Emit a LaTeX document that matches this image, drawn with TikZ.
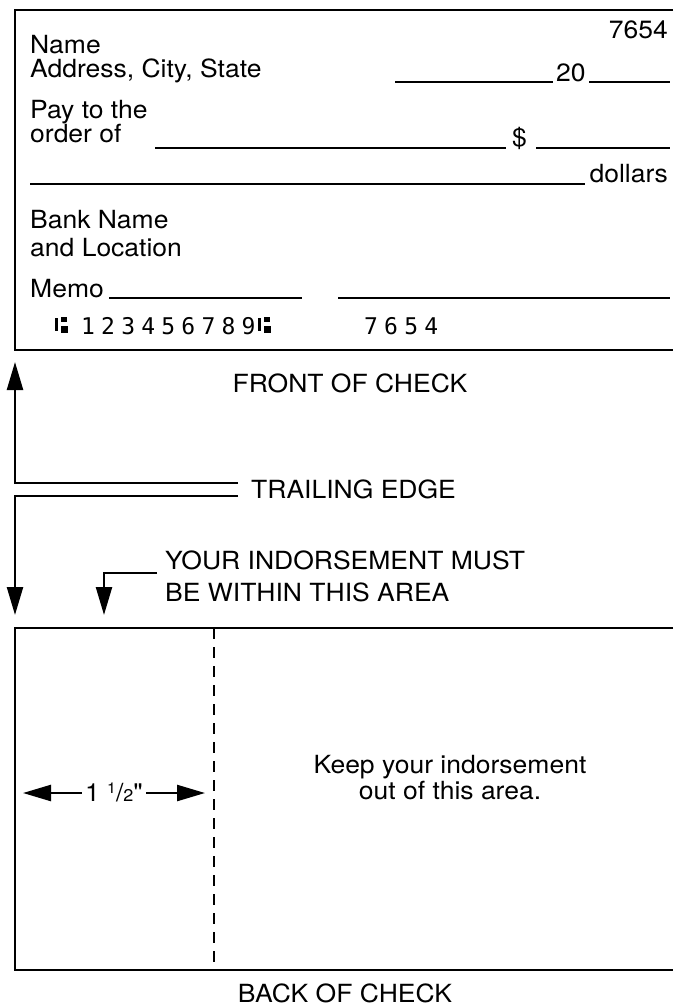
\documentclass[tikz,border=0pt]{standalone}
\usepackage{fontspec}
\setmainfont[FakeStretch=1.06]{TeX Gyre Heros}
\newfontfamily\qfont[FakeStretch=1.06,Ligatures=TeXOff]{TeX Gyre Heros}
\newfontfamily\micrfont[LetterSpace=27]{DejaVu Sans Mono}
\usetikzlibrary{arrows.meta}
\begin{document}
\begin{tikzpicture}[x=1pt,y=-1pt,
  txt/.style={inner sep=0pt,font=\fontsize{25}{26}\selectfont},
  micr/.style={inner sep=0pt,font=\fontsize{23}{26}\micrfont},
  boxline/.style={line width=2.8pt,line join=miter},
  uline/.style={line width=2.2pt},
  arr/.style={line width=2.4pt,line join=miter,-{Triangle[length=28pt,width=16pt]}},
  transit/.style={fill=black},
  ]
\useasboundingbox (0,0) rectangle (673,1008);
% front of check
\draw[boxline] (673,10) -- (15,10) -- (15,350) -- (673,350);
\node[txt,anchor=base east] (num) at (668,39) {7654};
\node[txt,anchor=base west] (name) at (30,54) {Name};
\node[txt,anchor=base west] (addr) at (30,78) {Address, City, State};
\node[txt,anchor=base west] (twenty) at (556,82) {20};
\coordinate (d1) at (395,82); \coordinate (d2) at (553,82);
\coordinate (d3) at (589,82); \coordinate (d4) at (670,82);
\draw[uline] (d1) -- (d2); \draw[uline] (d3) -- (d4);
\node[txt,anchor=base west] (pay) at (30,119) {Pay to the};
\node[txt,anchor=base west] (order) at (30,143) {order of};
\node[txt,anchor=base west] (dollar) at (512,147) {\$};
\coordinate (p1) at (155,148); \coordinate (p2) at (506,148);
\coordinate (p3) at (536,148); \coordinate (p4) at (670,148);
\draw[uline] (p1) -- (p2); \draw[uline] (p3) -- (p4);
\node[txt,anchor=base east] (dollars) at (668,183) {dollars};
\coordinate (w1) at (30,184); \coordinate (w2) at (585,184);
\draw[uline] (w1) -- (w2);
\node[txt,anchor=base west] (bank) at (30,229) {Bank Name};
\node[txt,anchor=base west] (loc) at (30,256) {and Location};
\node[txt,anchor=base west] (memo) at (30,297) {Memo};
\coordinate (m1) at (109,298); \coordinate (m2) at (302,298);
\coordinate (s1) at (338,298); \coordinate (s2) at (670,298);
\draw[uline] (m1) -- (m2); \draw[uline] (s1) -- (s2);
% MICR line: transit symbols drawn as shapes
\fill[transit] (55,318) rectangle (58,331);
\fill[transit] (61,317) rectangle (67,322);
\fill[transit] (61,326) rectangle (68,333);
\node[micr,anchor=base west] (routing) at (81,334) {123456789};
\fill[transit] (258,318) rectangle (261,331);
\fill[transit] (264,317) rectangle (270,322);
\fill[transit] (264,326) rectangle (271,333);
\node[micr,anchor=base west] (acct) at (364,334) {7654};
\node[txt,anchor=base] (front) at (350,392) {FRONT OF CHECK};
% trailing edge
\node[txt,anchor=base west] (trail) at (251,498) {TRAILING EDGE};
\coordinate (t1) at (238,483); \coordinate (t2) at (15,483); \coordinate (t3) at (15,362);
\coordinate (b1) at (238,496); \coordinate (b2) at (15,496); \coordinate (b3) at (15,615);
\draw[arr] (t1) -- (t2) -- (t3);
\draw[arr] (b1) -- (b2) -- (b3);
% indorsement note
\node[txt,anchor=base west] (ind1) at (165,569) {YOUR INDORSEMENT MUST};
\node[txt,anchor=base west] (ind2) at (165,601) {BE WITHIN THIS AREA};
\coordinate (i1) at (157,573); \coordinate (i2) at (104,573); \coordinate (i3) at (104,615);
\draw[arr] (i1) -- (i2) -- (i3);
% back of check
\draw[boxline] (673,628) -- (15,628) -- (15,970) -- (673,970);
\coordinate (dashtop) at (214,628); \coordinate (dashbot) at (214,970);
\draw[line width=2.4pt,dash pattern=on 11pt off 8pt] (dashtop) -- (dashbot);
\node[txt,inner xsep=3pt,anchor=base] (frac) at (114,801) {1 \raisebox{0.32em}{\fontsize{15}{15}\selectfont 1}/{\fontsize{17}{17}\selectfont 2}{\qfont"}};
\coordinate (la) at (23,793); \coordinate (ra) at (205,793);
\draw[arr] (frac.west |- la) -- (la);
\draw[arr] (frac.east |- ra) -- (ra);
\node[txt,align=center,anchor=base] (keep) at (450,799) {Keep your indorsement\\out of this area.};
\node[txt,anchor=base] (back) at (345,1002) {BACK OF CHECK};
\end{tikzpicture}
\end{document}
